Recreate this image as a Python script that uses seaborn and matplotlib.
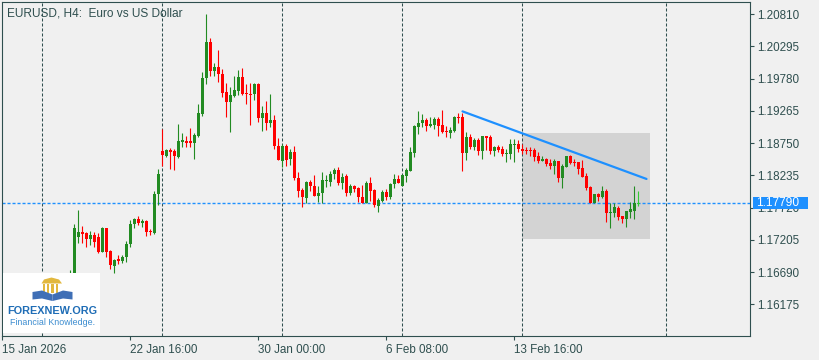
import numpy as np
import pandas as pd
import matplotlib
matplotlib.use("Agg")
import matplotlib.pyplot as plt
import seaborn as sns
from matplotlib.patches import Rectangle, Polygon
from matplotlib.transforms import blended_transform_factory

# ---------------- data ----------------
chart_title = "EURUSD, H4:  Euro vs US Dollar"
first_bar = 17  # index of first visible candle (earlier ones sit under the logo)

opens = [1.16403, 1.16590, 1.17244, 1.17324, 1.17313, 1.17223, 1.17276, 1.17244, 1.17015, 1.17393,
         1.17031, 1.16792, 1.16893, 1.16871, 1.16925, 1.17138, 1.17451, 1.17537, 1.17478, 1.17510,
         1.17350, 1.17318, 1.17931, 1.18623, 1.18543, 1.18639, 1.18628, 1.18532, 1.18772, 1.18783,
         1.18783, 1.18745, 1.18868, 1.19208, 1.19783, 1.20364, 1.19905, 1.19969, 1.19852, 1.19559,
         1.19400, 1.19500, 1.19586, 1.19799, 1.19543, 1.19532, 1.19532, 1.19692, 1.19144, 1.19224,
         1.19064, 1.19118, 1.18708, 1.18468, 1.18703, 1.18490, 1.18602, 1.18197, 1.18000, 1.17878,
         1.18133, 1.18070, 1.17910, 1.17947, 1.18149, 1.18133, 1.18256, 1.18320, 1.18117, 1.18229,
         1.17958, 1.18064, 1.18038, 1.17883, 1.17787, 1.18112, 1.18000, 1.17750, 1.17824, 1.17968,
         1.17894, 1.18096, 1.18176, 1.18070, 1.18224, 1.18309, 1.18596, 1.19011, 1.19064, 1.19118,
         1.19022, 1.19038, 1.19134, 1.19038, 1.18942, 1.18915, 1.18947, 1.19165, 1.19165, 1.18596,
         1.18852, 1.18692, 1.18799, 1.18628, 1.18862, 1.18846, 1.18628, 1.18692, 1.18655, 1.18575,
         1.18575, 1.18719, 1.18735, 1.18655, 1.18639, 1.18639, 1.18639, 1.18543, 1.18463, 1.18495,
         1.18436, 1.18389, 1.18463, 1.18197, 1.18373, 1.18548, 1.18452, 1.18442, 1.18346, 1.18224,
         1.18054, 1.17797, 1.17936, 1.17894, 1.17984, 1.17638, 1.17638, 1.17707, 1.17584, 1.17537,
         1.17654, 1.17670, 1.17770]
highs = [1.16723, 1.17457, 1.17680, 1.17425, 1.17324, 1.17350, 1.17334, 1.17308, 1.17414, 1.17393,
         1.17042, 1.16903, 1.16957, 1.16957, 1.17180, 1.17521, 1.17547, 1.17584, 1.17531, 1.17521,
         1.17371, 1.17984, 1.18336, 1.18974, 1.18660, 1.18665, 1.18660, 1.19048, 1.18905, 1.18868,
         1.18990, 1.18905, 1.19373, 1.19889, 1.20810, 1.20422, 1.20023, 1.20236, 1.19926, 1.19703,
         1.19650, 1.19820, 1.19916, 1.19942, 1.19692, 1.19713, 1.19713, 1.19713, 1.19341, 1.19421,
         1.19527, 1.19197, 1.18825, 1.18735, 1.18735, 1.18655, 1.18708, 1.18283, 1.18027, 1.18144,
         1.18160, 1.18240, 1.18064, 1.18283, 1.18240, 1.18304, 1.18357, 1.18373, 1.18267, 1.18256,
         1.18091, 1.18080, 1.18043, 1.18080, 1.18144, 1.18213, 1.18016, 1.17878, 1.18000, 1.18016,
         1.18112, 1.18256, 1.18240, 1.18256, 1.18357, 1.18692, 1.19038, 1.19261, 1.19213, 1.19144,
         1.19171, 1.19165, 1.19171, 1.19277, 1.19022, 1.19000, 1.19181, 1.19235, 1.19235, 1.18921,
         1.18894, 1.18825, 1.18825, 1.18868, 1.18862, 1.18878, 1.18708, 1.18719, 1.18708, 1.18649,
         1.18809, 1.18815, 1.18799, 1.18735, 1.18692, 1.18692, 1.18676, 1.18612, 1.18543, 1.18506,
         1.18490, 1.18490, 1.18463, 1.18415, 1.18543, 1.18559, 1.18495, 1.18452, 1.18479, 1.18267,
         1.18064, 1.17931, 1.17958, 1.18064, 1.18016, 1.17787, 1.17787, 1.17744, 1.17584, 1.17670,
         1.17813, 1.18070, 1.17984]
lows = [1.16350, 1.16536, 1.17148, 1.17148, 1.17095, 1.17122, 1.17095, 1.16989, 1.17005, 1.16935,
        1.16744, 1.16680, 1.16818, 1.16829, 1.16855, 1.17095, 1.17398, 1.17446, 1.17414, 1.17271,
        1.17281, 1.17297, 1.17760, 1.18389, 1.18532, 1.18336, 1.18320, 1.18506, 1.18692, 1.18681,
        1.18681, 1.18490, 1.18852, 1.19181, 1.19687, 1.19820, 1.19820, 1.19729, 1.19479, 1.19160,
        1.18931, 1.19490, 1.19516, 1.19516, 1.19368, 1.19043, 1.19437, 1.19091, 1.18947, 1.18958,
        1.19000, 1.18655, 1.18479, 1.18373, 1.18389, 1.18399, 1.18160, 1.17894, 1.17734, 1.17797,
        1.17990, 1.17910, 1.17813, 1.17787, 1.18043, 1.18070, 1.18176, 1.18080, 1.18016, 1.17904,
        1.17920, 1.17974, 1.17813, 1.17787, 1.17787, 1.17824, 1.17734, 1.17643, 1.17813, 1.17840,
        1.17851, 1.18038, 1.18107, 1.18070, 1.18133, 1.18309, 1.18532, 1.18894, 1.19011, 1.18942,
        1.19000, 1.18979, 1.18868, 1.18915, 1.18852, 1.18836, 1.18931, 1.19075, 1.18309, 1.18479,
        1.18655, 1.18639, 1.18559, 1.18495, 1.18639, 1.18575, 1.18548, 1.18602, 1.18548, 1.18452,
        1.18495, 1.18452, 1.18612, 1.18575, 1.18575, 1.18543, 1.18463, 1.18436, 1.18463, 1.18383,
        1.18336, 1.18256, 1.18133, 1.18038, 1.18373, 1.18410, 1.18383, 1.18256, 1.18213, 1.18000,
        1.17787, 1.17797, 1.17829, 1.17867, 1.17494, 1.17398, 1.17563, 1.17521, 1.17478, 1.17414,
        1.17547, 1.17537, 1.17750]
closes = [1.16680, 1.17393, 1.17324, 1.17297, 1.17223, 1.17276, 1.17164, 1.17015, 1.17393, 1.17015,
          1.16802, 1.16882, 1.16871, 1.16925, 1.17138, 1.17457, 1.17537, 1.17478, 1.17510, 1.17334,
          1.17324, 1.17936, 1.18256, 1.18559, 1.18639, 1.18612, 1.18543, 1.18783, 1.18799, 1.18756,
          1.18745, 1.18878, 1.19224, 1.19783, 1.20364, 1.19905, 1.19958, 1.19852, 1.19554, 1.19400,
          1.19516, 1.19596, 1.19799, 1.19532, 1.19527, 1.19516, 1.19692, 1.19155, 1.19224, 1.19064,
          1.19118, 1.18708, 1.18479, 1.18703, 1.18479, 1.18602, 1.18197, 1.17990, 1.17883, 1.18133,
          1.18070, 1.17910, 1.17947, 1.18155, 1.18160, 1.18261, 1.18320, 1.18117, 1.18208, 1.17958,
          1.18064, 1.18016, 1.17883, 1.17787, 1.18112, 1.17984, 1.17760, 1.17840, 1.17968, 1.17894,
          1.18096, 1.18176, 1.18117, 1.18240, 1.18320, 1.18602, 1.19022, 1.19075, 1.19118, 1.19027,
          1.19054, 1.19134, 1.19027, 1.18931, 1.18931, 1.18958, 1.19165, 1.19155, 1.18596, 1.18852,
          1.18692, 1.18799, 1.18628, 1.18868, 1.18836, 1.18628, 1.18681, 1.18639, 1.18575, 1.18596,
          1.18735, 1.18735, 1.18655, 1.18628, 1.18628, 1.18628, 1.18532, 1.18463, 1.18495, 1.18415,
          1.18389, 1.18463, 1.18197, 1.18383, 1.18543, 1.18426, 1.18436, 1.18336, 1.18213, 1.18038,
          1.17797, 1.17931, 1.17894, 1.17984, 1.17638, 1.17654, 1.17734, 1.17574, 1.17537, 1.17670,
          1.17691, 1.17787, 1.17790]

current_price = 1.17790
price_ticks = [1.16175, 1.16690, 1.17205, 1.17720, 1.18235, 1.18750, 1.19265, 1.19780, 1.20295, 1.20810]
date_tick_bars = [0, 32, 64, 96, 128]
date_tick_labels = ["15 Jan 2026", "22 Jan 16:00", "30 Jan 00:00", "6 Feb 08:00", "13 Feb 16:00"]
grid_bars = [10, 40, 70, 100, 130, 166]
trend_bars = [115, 161]
trend_prices = [1.19255, 1.18176]
zone_bars = [130, 162]
zone_prices = [1.17218, 1.18910]

# ---------------- style ----------------
BG = "#F0F0F0"
FRAME = "#2F4F4F"
BULL = "#228B22"
BEAR = "#FF0000"
LAST = "#32CD32"
BLUE = "#1E90FF"
W, H = 820, 360

sns.set_theme(style="white", rc={"figure.facecolor": BG, "axes.facecolor": BG,
                                 "savefig.facecolor": BG})
plt.rcParams["font.family"] = ["Liberation Sans", "DejaVu Sans"]

fig = plt.figure(figsize=(W / 100, H / 100), dpi=100)
ax_left, ax_right, ax_top, ax_bottom = 2.5, 750.0, 2.3, 336.0
ax = fig.add_axes([ax_left / W, 1 - ax_bottom / H, (ax_right - ax_left) / W, (ax_bottom - ax_top) / H])
ax.set_xlim(0, 186.875)
ax.set_ylim(1.15668, 1.20997)
price_per_px = (1.20997 - 1.15668) / (ax_bottom - ax_top)

# zone rectangle
ax.add_patch(Rectangle((zone_bars[0], zone_prices[0]), zone_bars[1] - zone_bars[0],
                       zone_prices[1] - zone_prices[0], facecolor="#D3D3D3",
                       edgecolor="none", zorder=0.5))

# vertical grid
for b in grid_bars:
    ax.axvline(b, color=FRAME, lw=0.75, ls=(0, (2.9, 1.9)), zorder=0.6)

# current price line
ax.axhline(current_price, color=BLUE, lw=1.0, ls=(0, (2.2, 1.4)), zorder=0.7)

# candles
df = pd.DataFrame({"bar": first_bar + np.arange(len(opens)), "open": opens,
                   "high": highs, "low": lows, "close": closes})
cols = np.where(df["close"] >= df["open"], BULL, BEAR).astype(object)
cols[-1] = LAST
ax.vlines(df["bar"], df["low"], df["high"], colors=list(cols), lw=0.8, zorder=2)
body_low = np.minimum(df["open"], df["close"])
body_h = np.maximum((df["close"] - df["open"]).abs(), 0.00013)
ax.bar(df["bar"], body_h, bottom=body_low, width=0.75, color=list(cols), lw=0, zorder=3)

# trend line
sns.lineplot(x=trend_bars, y=trend_prices, ax=ax, color=BLUE, lw=1.6, zorder=4, legend=False)
ax.set_xlabel("")
ax.set_ylabel("")

# axes / ticks
ax.yaxis.tick_right()
ax.set_yticks(price_ticks)
ax.set_yticklabels([f"{p:.5f}" for p in price_ticks])
ax.tick_params(axis="y", which="both", direction="out", length=3, width=0.8, color=FRAME,
               labelcolor=FRAME, labelsize=8.4, pad=2, right=True, left=False,
               labelright=True, labelleft=False)
ax.set_xticks(date_tick_bars)
ax.set_xticklabels(date_tick_labels, ha="left")
ax.tick_params(axis="x", which="both", direction="out", length=3, width=0.8, color=FRAME,
               labelcolor=FRAME, labelsize=8.4, pad=2.5, bottom=True)
for s in ax.spines.values():
    s.set_color(FRAME)
    s.set_linewidth(0.8)
ax.grid(False)

# current price tag (box covers the 1.17720 label like the reference)
tr = blended_transform_factory(ax.transAxes, ax.transData)
span = ax_right - ax_left
ax.add_patch(Rectangle((1 + 2.7 / span, current_price - 6.3 * price_per_px), 55 / span,
                       12.6 * price_per_px, transform=tr, facecolor=BLUE, edgecolor="none",
                       zorder=9, clip_on=False))
ax.text(1 + 6.5 / span, current_price, f"{current_price:.5f}", transform=tr,
        color="white", fontsize=8.6, ha="left", va="center", zorder=10, clip_on=False)

# title
fig.text(7 / W, 1 - 17.0 / H, chart_title, fontsize=8.6, color=FRAME, ha="left", va="baseline")

# logo
def P(px, py):
    return (px / W, 1 - py / H)

fig.add_artist(Rectangle(P(3, 333), 97 / W, 60 / H, transform=fig.transFigure,
                         facecolor="white", edgecolor="none", zorder=5))
gold = "#E2B83E"
fig.add_artist(Polygon([P(41.5, 283.5), P(44, 279.5), P(51.5, 277.5), P(59, 279.5), P(62, 283.5)],
                       closed=True, transform=fig.transFigure, fc=gold, ec="none", zorder=6))
for cx in [44.0, 48.3, 52.7, 57.0]:
    fig.add_artist(Rectangle(P(cx - 1.2, 293), 2.4 / W, 9 / H, transform=fig.transFigure,
                             fc=gold, ec="none", zorder=6))
book = "#3F6FB6"
fig.add_artist(Polygon([P(32.5, 292), P(42, 290.5), P(52.5, 294.5), P(52.5, 301), P(42, 298.5), P(32.5, 299.5)],
                       closed=True, transform=fig.transFigure, fc=book, ec="none", zorder=6))
fig.add_artist(Polygon([P(72.5, 292), P(63, 290.5), P(52.5, 294.5), P(52.5, 301), P(63, 298.5), P(72.5, 299.5)],
                       closed=True, transform=fig.transFigure, fc=book, ec="none", zorder=6))
fig.text(52.3 / W, 1 - 313.7 / H, "FOREXNEW.ORG", fontsize=7.8, fontweight="bold",
         color="#1F6DB6", ha="center", va="baseline", zorder=7)
fig.text(52.3 / W, 1 - 325 / H, "Financial Knowledge.", fontsize=6.4,
         color="#3D8DD0", ha="center", va="baseline", zorder=7)

fig.savefig("out.png", dpi=100, facecolor=BG)
